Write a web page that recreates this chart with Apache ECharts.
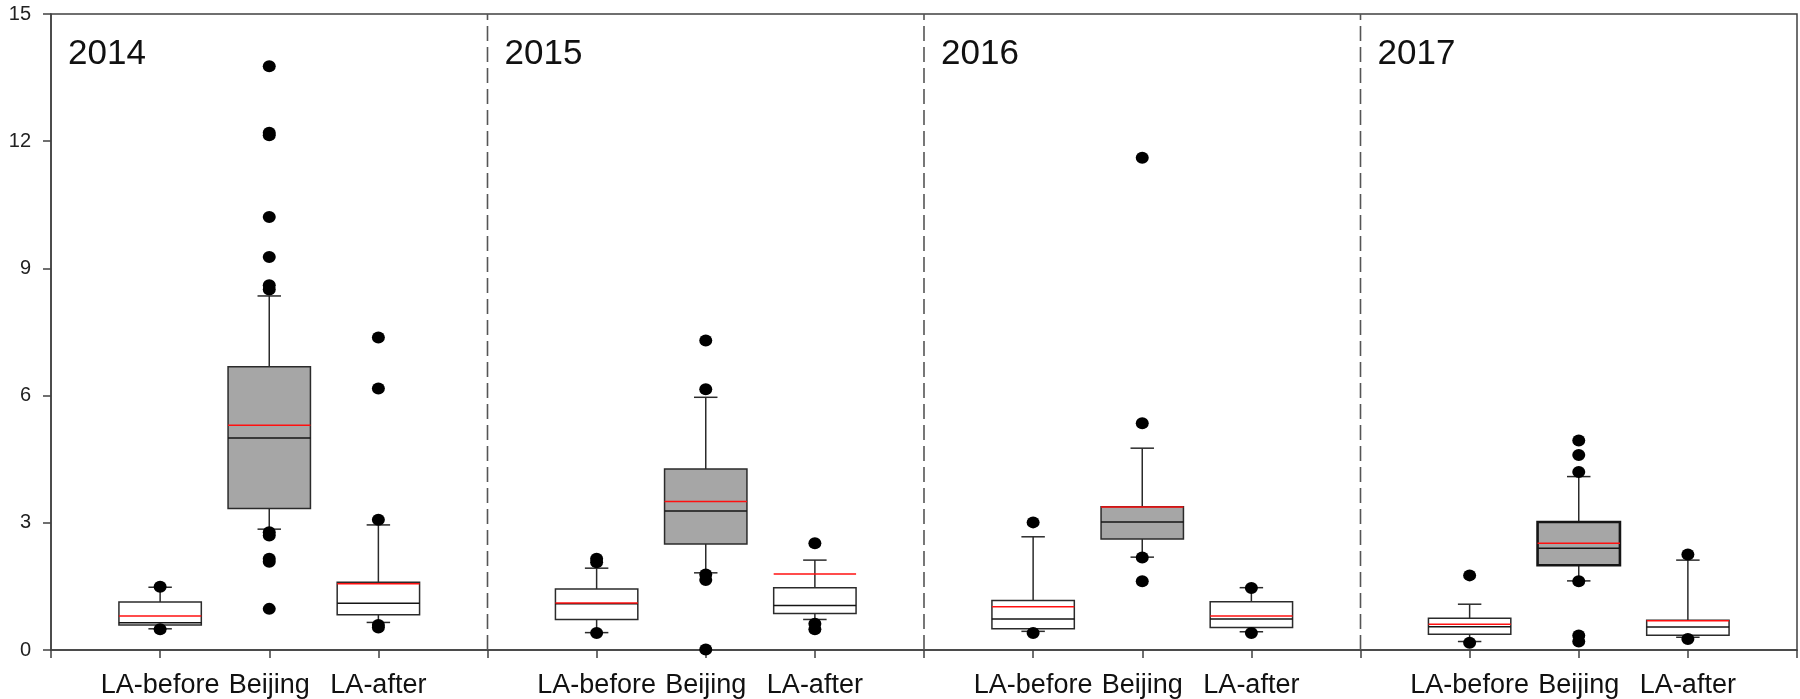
<!DOCTYPE html>
<html>
<head>
<meta charset="utf-8">
<script src="https://cdn.jsdelivr.net/npm/echarts@6/dist/echarts.min.js"></script>
<style>
  html, body { margin: 0; padding: 0; background: #ffffff; }
  #chart { width: 1800px; height: 699px; }
</style>
</head>
<body>
<div id="chart"></div>
<script>
// Panels (one per year) and the three groups drawn inside each panel
const years = ['2014', '2015', '2016', '2017'];
const groups = ['LA-before', 'Beijing', 'LA-after'];
const yTicks = [0, 3, 6, 9, 12, 15];

// Five-number summaries per group: [lower whisker, Q1, median, Q3, upper whisker]
const box2014 = [[0.50, 0.59, 0.64, 1.13, 1.48], [2.85, 3.34, 5.00, 6.68, 8.35], [0.65, 0.83, 1.10, 1.60, 2.95]];
const box2015 = [[0.41, 0.72, 1.09, 1.44, 1.93], [1.82, 2.50, 3.28, 4.27, 5.96], [0.72, 0.86, 1.05, 1.47, 2.12]];
const box2016 = [[0.44, 0.50, 0.73, 1.17, 2.67], [2.19, 2.62, 3.02, 3.38, 4.76], [0.43, 0.53, 0.73, 1.14, 1.47]];
const box2017 = [[0.20, 0.37, 0.55, 0.75, 1.08], [1.63, 2.00, 2.40, 3.02, 4.09], [0.30, 0.35, 0.54, 0.70, 2.12]];

// Means (red lines)
const mean2014 = [0.80, 5.30, 1.56];
const mean2015 = [1.11, 3.50, 1.79];
const mean2016 = [1.02, 3.37, 0.80];
const mean2017 = [0.61, 2.52, 0.69];

// Outlying points
const outliers2014 = [[1.49, 0.49], [13.77, 12.20, 12.14, 10.21, 9.27, 8.60, 8.50, 2.78, 2.70, 2.15, 2.08, 0.97], [7.37, 6.17, 3.07, 0.59, 0.53]];
const outliers2015 = [[2.15, 2.07, 0.40], [7.30, 6.15, 1.78, 1.65, 0.01], [2.52, 0.62, 0.49]];
const outliers2016 = [[3.01, 0.40], [11.61, 5.35, 2.18, 1.62], [1.46, 0.40]];
const outliers2017 = [[1.76, 0.17], [4.94, 4.60, 4.20, 1.62, 0.34, 0.20], [2.25, 0.26]];

const boxes = [box2014, box2015, box2016, box2017];
const means = [mean2014, mean2015, mean2016, mean2017];
const outliers = [outliers2014, outliers2015, outliers2016, outliers2017];

// Each year panel spans 4 x-units; groups sit at offsets 1, 2, 3
const SLOTS = 4;
const slotLabels = [];
for (let y = 0; y < years.length; y++) {
  slotLabels.push('');
  groups.forEach(g => slotLabels.push(g));
}
slotLabels.push('');
const separators = [];
for (let y = 1; y < years.length; y++) separators.push(y * SLOTS);

const boxData = [];
const pointData = [];
years.forEach((yr, yi) => {
  groups.forEach((g, gi) => {
    const x = yi * SLOTS + gi + 1;
    const b = boxes[yi][gi];
    const shaded = g === 'Beijing' ? 1 : 0;
    const heavy = (g === 'Beijing' && yr === '2017') ? 1 : 0;
    boxData.push([x, b[0], b[1], b[2], b[3], b[4], means[yi][gi], shaded, heavy]);
    outliers[yi][gi].forEach(v => pointData.push([x, v]));
  });
});
const yearData = years.map((yr, yi) => [yi * SLOTS, 15, yr]);

const FONT = 'Liberation Sans, Arial, sans-serif';
const STROKE = '#2b2b2b';

function renderBox(params, api) {
  const x = api.value(0);
  const lo = api.coord([x, api.value(1)]);
  const q1 = api.coord([x, api.value(2)]);
  const med = api.coord([x, api.value(3)]);
  const q3 = api.coord([x, api.value(4)]);
  const hi = api.coord([x, api.value(5)]);
  const mean = api.coord([x, api.value(6)]);
  const band = api.size([1, 0])[0];
  const bw = band * 0.755;
  const cw = band * 0.215;
  const cx = lo[0];
  const shaded = api.value(7) === 1;
  const heavy = api.value(8) === 1;
  const line = (x1, y1, x2, y2, color, w) => ({
    type: 'line',
    shape: { x1, y1, x2, y2 },
    style: { stroke: color, lineWidth: w }
  });
  return {
    type: 'group',
    children: [
      line(cx, q3[1], cx, hi[1], STROKE, 1.5),
      line(cx - cw / 2, hi[1], cx + cw / 2, hi[1], STROKE, 1.5),
      line(cx, q1[1], cx, lo[1], STROKE, 1.5),
      line(cx - cw / 2, lo[1], cx + cw / 2, lo[1], STROKE, 1.5),
      {
        type: 'rect',
        shape: { x: cx - bw / 2, y: q3[1], width: bw, height: q1[1] - q3[1] },
        style: { fill: shaded ? '#a6a6a6' : '#ffffff', stroke: heavy ? '#151515' : STROKE, lineWidth: heavy ? 2.6 : 1.5 }
      },
      line(cx - bw / 2, med[1], cx + bw / 2, med[1], '#151515', 1.5),
      line(cx - bw / 2, mean[1], cx + bw / 2, mean[1], '#ff1010', 1.5)
    ]
  };
}

function renderSeparator(params, api) {
  const x = api.value(0);
  const p0 = api.coord([x, 0]);
  const p1 = api.coord([x, 15]);
  return {
    type: 'line',
    shape: { x1: p0[0], y1: p0[1], x2: p1[0], y2: p1[1] },
    style: { stroke: '#555555', lineWidth: 1.6, lineDash: [15, 6] }
  };
}

function renderYear(params, api) {
  const p = api.coord([api.value(0), api.value(1)]);
  return {
    type: 'text',
    x: p[0] + 17,
    y: p[1] + 40,
    style: {
      text: yearData[params.dataIndex][2],
      fontSize: 35,
      fontFamily: FONT,
      fill: '#111111',
      align: 'left',
      verticalAlign: 'middle'
    }
  };
}

const chart = echarts.init(document.getElementById('chart'), null, { renderer: 'canvas' });
chart.setOption({
  animation: false,
  backgroundColor: '#ffffff',
  grid: {
    left: 51, right: 3, top: 14, bottom: 49,
    show: true, borderColor: '#404040', borderWidth: 1.5, backgroundColor: 'transparent'
  },
  xAxis: {
    type: 'value',
    min: 0, max: years.length * SLOTS, interval: 1,
    axisLine: { show: true, lineStyle: { color: '#404040', width: 1.5 } },
    axisTick: { show: true, length: 8, lineStyle: { color: '#404040', width: 1.5 } },
    splitLine: { show: false },
    axisLabel: {
      margin: 22,
      fontSize: 27,
      fontFamily: FONT,
      color: '#111111',
      showMinLabel: true, showMaxLabel: true,
      formatter: v => slotLabels[Math.round(v)] || ''
    }
  },
  yAxis: {
    type: 'value',
    min: yTicks[0], max: yTicks[yTicks.length - 1], interval: yTicks[1] - yTicks[0],
    axisLine: { show: true, lineStyle: { color: '#404040', width: 1.5 } },
    axisTick: { show: true, length: 8, lineStyle: { color: '#404040', width: 1.5 } },
    splitLine: { show: false },
    axisLabel: {
      margin: 20,
      fontSize: 20,
      fontFamily: FONT,
      color: '#222222'
    }
  },
  series: [
    {
      type: 'custom',
      name: 'separators',
      silent: true,
      renderItem: renderSeparator,
      data: separators.map(x => [x]),
      z: 1
    },
    {
      type: 'custom',
      name: 'boxes',
      silent: true,
      renderItem: renderBox,
      encode: { x: 0, y: [1, 2, 3, 4, 5, 6] },
      data: boxData,
      z: 2
    },
    {
      type: 'scatter',
      name: 'outliers',
      silent: true,
      symbol: 'circle',
      symbolSize: [13, 12],
      itemStyle: { color: '#000000', opacity: 1 },
      data: pointData,
      z: 3
    },
    {
      type: 'custom',
      name: 'years',
      silent: true,
      renderItem: renderYear,
      data: yearData.map(d => [d[0], d[1]]),
      z: 4
    }
  ]
});
</script>
</body>
</html>
